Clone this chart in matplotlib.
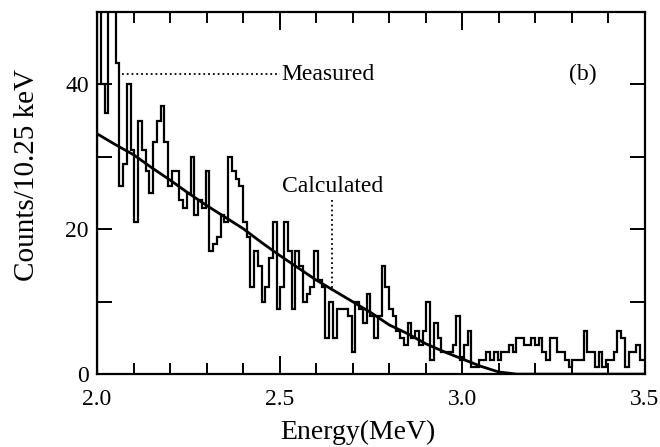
import numpy as np
import matplotlib.pyplot as plt
from matplotlib.ticker import MultipleLocator, FixedLocator, FixedFormatter

# Measured spectrum, counts per 10.25 keV bin starting at 2.0 MeV
bin_width = 0.01025  # MeV
e_start = 2.0
measured = [
    55, 40, 36, 55, 54, 43, 26, 29, 40, 31,
    21, 35, 31, 28, 25, 32, 35, 37, 32, 26,
    28, 28, 24, 23, 25, 30, 22, 24, 23, 28,
    17, 18, 19, 22, 21, 30, 28, 27, 26, 21,
    19, 12, 17, 15, 10, 12, 16, 21, 9, 12,
    21, 17, 9, 17, 15, 10, 11, 12, 17, 13,
    12, 5, 10, 5, 9, 9, 9, 8, 3, 10,
    9, 7, 11, 8, 5, 8, 15, 12, 9, 8,
    6, 5, 4, 7, 5, 6, 4, 6, 10, 2,
    7, 5, 3, 3, 3, 4, 8, 2, 4, 6,
    1, 1, 2, 2, 3, 2, 3, 2, 3, 3,
    4, 3, 5, 5, 4, 4, 5, 4, 5, 3,
    2, 5, 5, 3, 3, 2, 1, 2, 2, 2,
    6, 3, 3, 1, 3, 1, 2, 2, 3, 6,
    5, 1, 3, 3, 4, 2, 2,
]

# Calculated curve
calc_energy = [2.00, 2.05, 2.10, 2.15, 2.20, 2.25, 2.30, 2.35, 2.40, 2.45,
               2.50, 2.55, 2.60, 2.65, 2.70, 2.75, 2.80, 2.85, 2.90, 2.95,
               3.00, 3.05, 3.10, 3.15, 3.50]
calc_counts = [33.2, 31.7, 30.3, 28.5, 26.8, 25.0, 23.3, 21.7, 20.1, 18.2,
               16.4, 14.7, 13.0, 11.5, 10.0, 8.5, 6.8, 5.6, 4.2, 3.1,
               2.1, 1.1, 0.3, 0.0, 0.0]

x_ticks = [2.0, 2.5, 3.0, 3.5]
x_labels = ['2.0', '2.5', '3.0', '3.5']
y_ticks = [0, 10, 20, 30, 40, 50]
y_labels = ['0', '', '20', '', '40', '']

plt.rcParams['font.family'] = ['Liberation Serif', 'DejaVu Serif']

edges = e_start + bin_width * np.arange(len(measured) + 1)

fig = plt.figure(figsize=(6.6, 4.47), dpi=100)
ax = fig.add_axes([0.147, 0.163, 0.83, 0.81])

ax.stairs(measured, edges, color='black', linewidth=1.6)
ax.plot(calc_energy, calc_counts, color='black', linewidth=2.0)

# annotations
ax.plot([2.068, 2.50], [41.4, 41.4], ls=':', lw=1.3, color='black')
ax.text(2.505, 41.4, 'Measured', ha='left', va='center', fontsize=17)
ax.text(3.331, 41.4, '(b)', ha='center', va='center', fontsize=17)
ax.text(2.507, 25.9, 'Calculated', ha='left', va='center', fontsize=17)
ax.plot([2.644, 2.644], [24.1, 11.9], ls=':', lw=1.3, color='black')

ax.set_xlim(2.0, 3.5)
ax.set_ylim(0, 50)

ax.xaxis.set_major_locator(FixedLocator(x_ticks))
ax.xaxis.set_major_formatter(FixedFormatter(x_labels))
ax.xaxis.set_minor_locator(MultipleLocator(0.1))
ax.yaxis.set_major_locator(FixedLocator(y_ticks))
ax.yaxis.set_major_formatter(FixedFormatter(y_labels))

ax.tick_params(which='both', direction='in', top=True, right=True,
               width=1.4, labelsize=17)
ax.tick_params(axis='x', which='major', length=13, pad=11)
ax.tick_params(axis='x', which='minor', length=8)
ax.tick_params(axis='y', which='major', length=11, pad=6)

for s in ax.spines.values():
    s.set_linewidth(1.6)

ax.set_xlabel('Energy(MeV)', fontsize=20)
ax.set_ylabel('Counts/10.25 keV', fontsize=21)
ax.xaxis.set_label_coords(0.476, -0.125)
ax.yaxis.set_label_coords(-0.105, 0.55)

fig.savefig('out.png', dpi=100)
